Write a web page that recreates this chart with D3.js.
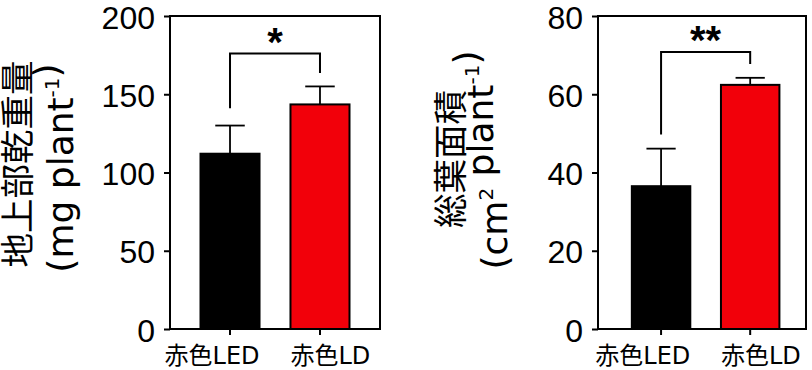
<!DOCTYPE html>
<html>
<head>
<meta charset="utf-8">
<script src="https://d3js.org/d3.v7.min.js"></script>
<style>
  body { margin: 0; background: #fff; }
  svg { display: block; }
</style>
</head>
<body>
<div id="chart"></div>
<script>
// data
var groups = ["赤色LED", "赤色LD"];
var barColors = ["#000000", "#f2000a"];

var dryMean = [112, 143.5];
var dryErr  = [18, 11.5];
var dryTicks = [0, 50, 100, 150, 200];
var dryBracket = {top: 176, left: 141, right: 163.5, label: "*"};

var areaMean = [36.5, 62.4];
var areaErr  = [9.6, 1.8];
var areaTicks = [0, 20, 40, 60, 80];
var areaBracket = {top: 70.8, left: 49.7, right: 67.7, label: "**"};

var labelFont = "'DejaVu Sans', 'Noto Sans CJK JP', sans-serif";

var svg = d3.select("#chart").append("svg")
    .attr("width", 812)
    .attr("height", 370);

function drawPanel(opt) {
  var g = svg.append("g");

  var y = d3.scaleLinear().domain([0, opt.max]).range([329, 16]);
  var x = d3.scaleBand().domain(groups)
      .range([opt.x0, opt.x1])
      .paddingInner(0.344).paddingOuter(0.339).align(opt.align);
  var bw = x.bandwidth();

  // frame
  g.append("rect")
    .attr("x", opt.x0).attr("y", y(opt.max))
    .attr("width", opt.x1 - opt.x0).attr("height", y(0) - y(opt.max))
    .attr("fill", "none").attr("stroke", "#000").attr("stroke-width", 2);

  // y axis
  var ya = g.append("g")
    .attr("transform", "translate(" + opt.x0 + ",0)")
    .call(d3.axisLeft(y).tickValues(opt.ticks).tickSize(6).tickPadding(9));
  ya.select(".domain").remove();
  ya.selectAll(".tick line").attr("stroke-width", 2);
  ya.selectAll(".tick text")
    .attr("dy", "0.38em")
    .attr("fill", "#000")
    .style("font-family", "'Liberation Sans', Arial, sans-serif")
    .style("font-size", "32px");

  // x axis: first label ends at bar's right edge, second starts at bar's left edge
  var xa = g.append("g")
    .attr("transform", "translate(0," + y(0) + ")")
    .call(d3.axisBottom(x).tickSize(6));
  xa.select(".domain").remove();
  xa.selectAll(".tick line").attr("stroke-width", 2);
  xa.selectAll(".tick text")
    .attr("y", 35).attr("dy", 0).attr("fill", "#000")
    .attr("x", function(d, i) { return i === 0 ? bw / 2 : -bw / 2; })
    .attr("text-anchor", function(d, i) { return i === 0 ? "end" : "start"; })
    .style("font-family", labelFont)
    .style("font-size", "24px");

  // error bars
  var err = g.append("g").attr("stroke", "#000").attr("stroke-width", 1.8);
  groups.forEach(function(k, i) {
    var cx = x(k) + bw / 2;
    err.append("line")
      .attr("x1", cx).attr("x2", cx)
      .attr("y1", y(opt.mean[i])).attr("y2", y(opt.mean[i] + opt.err[i]));
    err.append("line")
      .attr("x1", cx - bw / 4).attr("x2", cx + bw / 4)
      .attr("y1", y(opt.mean[i] + opt.err[i])).attr("y2", y(opt.mean[i] + opt.err[i]));
  });

  // bars
  g.selectAll(".bar")
    .data(groups)
    .enter().append("rect")
      .attr("x", function(d) { return x(d); })
      .attr("y", function(d, i) { return y(opt.mean[i]); })
      .attr("width", bw)
      .attr("height", function(d, i) { return y(0) - y(opt.mean[i]); })
      .attr("fill", function(d, i) { return barColors[i]; })
      .attr("stroke", "#000")
      .attr("stroke-width", 2);

  // significance bracket
  var b = opt.bracket;
  var xl = x(groups[0]) + bw / 2,
      xr = x(groups[1]) + bw / 2;
  g.append("path")
    .attr("d", "M" + xl + "," + y(b.left) + "V" + y(b.top) + "H" + xr + "V" + y(b.right))
    .attr("fill", "none").attr("stroke", "#000").attr("stroke-width", 2);
  g.append("text")
    .attr("x", (xl + xr) / 2).attr("y", y(b.top) + 2)
    .attr("text-anchor", "middle")
    .style("font", "bold 40px 'Liberation Sans', Arial, sans-serif")
    .text(b.label);

  // y label, two rotated lines
  g.append("text")
    .attr("transform", "translate(" + opt.lab1[0] + "," + opt.lab1[1] + ") rotate(-90)")
    .attr("text-anchor", "middle")
    .style("font-family", labelFont)
    .style("font-size", "34.5px")
    .text(opt.title);
  var t2 = g.append("text")
    .attr("transform", "translate(" + opt.lab2[0] + "," + opt.lab2[1] + ") rotate(-90)")
    .attr("text-anchor", "middle")
    .style("font-family", labelFont)
    .style("font-size", "36px");
  opt.unit.forEach(function(p) {
    if (p.sup) {
      t2.append("tspan").style("font-size", "20px").attr("dy", -14).text(p.t);
      t2.append("tspan").attr("dy", 14).text("");
    } else {
      t2.append("tspan").text(p.t);
    }
  });
}

drawPanel({
  x0: 170, x1: 380, align: 0.5, max: 200, ticks: dryTicks,
  mean: dryMean, err: dryErr, bracket: dryBracket,
  lab1: [30, 164], lab2: [73, 168], title: "地上部乾重量",
  unit: [{t: "(mg plant"}, {t: "-1", sup: true}, {t: ")"}]
});

drawPanel({
  x0: 598, x1: 806, align: 0.56, max: 80, ticks: areaTicks,
  mean: areaMean, err: areaErr, bracket: areaBracket,
  lab1: [463, 159], lab2: [507, 160], title: "総葉面積",
  unit: [{t: "(cm"}, {t: "2", sup: true}, {t: " plant"}, {t: "-1", sup: true}, {t: ")"}]
});
</script>
</body>
</html>
